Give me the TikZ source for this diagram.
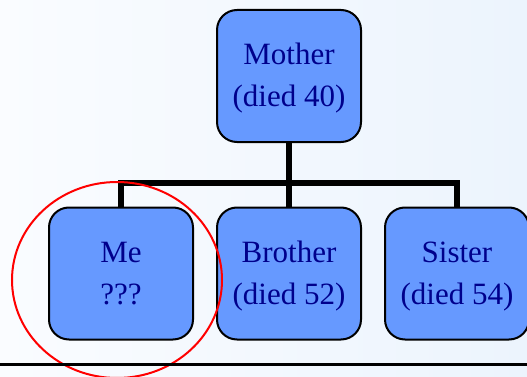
\documentclass[tikz,border=0pt]{standalone}
\usepackage{fontspec}
\setmainfont{Liberation Serif}
\usetikzlibrary{backgrounds}
\definecolor{boxfill}{RGB}{102,153,255}
\definecolor{inktext}{RGB}{0,0,140}
\definecolor{bgleft}{RGB}{250,252,255}
\definecolor{bgright}{RGB}{236,244,253}
% fixed line metrics so every box sets its two lines at the same height
\newcommand\tallstrut{\rule[-8pt]{0pt}{35pt}}
\tikzset{
  person/.style={draw=black, line width=2pt, fill=boxfill, rounded corners=20pt,
    minimum width=144pt, minimum height=132pt, inner sep=0pt, align=center,
    text=inktext, font=\fontsize{31}{42}\selectfont},
  link/.style={line width=5.5pt, draw=black, line cap=butt, line join=miter},
  ring/.style={draw=red, line width=2pt},
  rule/.style={draw=black, line width=3pt}
}
\begin{document}
\begin{tikzpicture}[x=1pt, y=-1pt]
  \useasboundingbox (0,0) rectangle (527,377);
  \begin{scope}[on background layer]
    \shade[left color=bgleft, right color=bgright] (0,0) rectangle (527,377);
  \end{scope}

  % family members
  \node[person] (mother)  at (289,76)    {\tallstrut Mother\\\tallstrut(died 40)};
  \node[person] (me)      at (121,273.5) {\tallstrut Me\\\tallstrut ???};
  \node[person] (brother) at (289,273.5) {\tallstrut Brother\\\tallstrut(died 52)};
  \node[person] (sister)  at (457,273.5) {\tallstrut Sister\\\tallstrut(died 54)};

  % family tree connectors
  \coordinate (bus) at (289,183);
  \begin{scope}[on background layer]
    \draw[link] (mother.south) -- (bus);
    \draw[link] (me.north) |- (bus) -| (sister.north);
    \draw[link] (bus) -- (brother.north);
  \end{scope}

  % highlight around "Me"
  \coordinate (ringc) at (117,280);
  \draw[ring] (ringc) ellipse [x radius=105, y radius=98];

  % base rule
  \coordinate (ruleL) at (0,364);
  \coordinate (ruleR) at (527,364);
  \draw[rule] (ruleL) -- (ruleR);
\end{tikzpicture}
\end{document}
